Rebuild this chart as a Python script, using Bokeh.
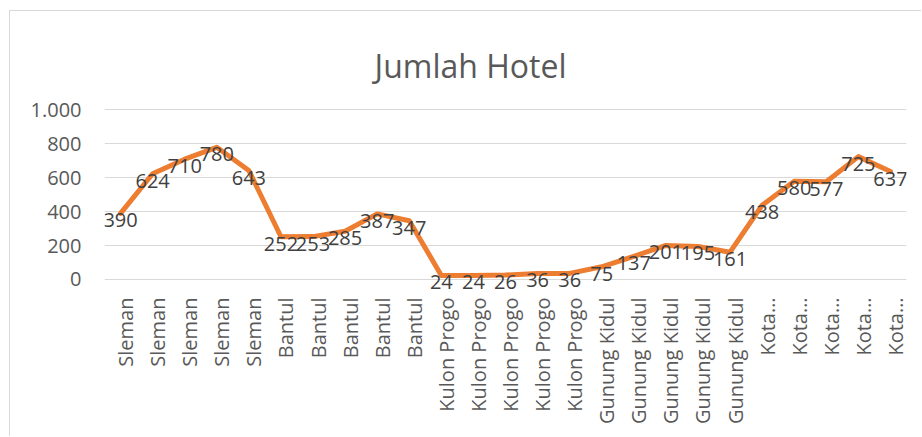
import numpy as np
from bokeh.plotting import figure
from bokeh.models import Range1d, FixedTicker, LabelSet, Label, ColumnDataSource
from bokeh.core.properties import value
from bokeh.embed import file_html
from bokeh.resources import INLINE
from math import pi

title_text = "Jumlah Hotel"
categories = [
    "Sleman", "Sleman", "Sleman", "Sleman", "Sleman",
    "Bantul", "Bantul", "Bantul", "Bantul", "Bantul",
    "Kulon Progo", "Kulon Progo", "Kulon Progo", "Kulon Progo", "Kulon Progo",
    "Gunung Kidul", "Gunung Kidul", "Gunung Kidul", "Gunung Kidul", "Gunung Kidul",
    "Kota…", "Kota…", "Kota…", "Kota…", "Kota…",
]
values = [390, 624, 710, 780, 643,
          252, 253, 285, 387, 347,
          24, 24, 26, 36, 36,
          75, 137, 201, 195, 161,
          438, 580, 577, 725, 637]
y_ticks = [0, 200, 400, 600, 800, 1000]
y_tick_labels = ["0", "200", "400", "600", "800", "1.000"]

FONT = "Open Sans"
ORANGE = "#ED7D31"
GRID = "#D9D9D9"
TICK = "#595959"

n = len(values)
xs = list(range(n))

# frame extended slightly above/below the value range so that title and labels are not clipped
p = figure(width=912, height=426, output_backend="svg", toolbar_location=None,
           x_range=Range1d(-0.5, n - 0.5), y_range=Range1d(-106.2, 1410),
           min_border_left=94, min_border_right=16, min_border_top=29, min_border_bottom=140)
p.styles = {"margin-left": "9px", "margin-top": "10px",
            "border-left": "1px solid #D9D9D9", "border-top": "1px solid #D9D9D9"}
p.outline_line_color = None
p.background_fill_color = "white"
p.border_fill_color = "white"

src = ColumnDataSource(dict(x=xs, y=values, label=[str(v) for v in values]))
p.line(x="x", y="y", source=src, line_color=ORANGE, line_width=5,
       line_join="round", line_cap="round")

labels = LabelSet(x="x", y="y", text="label", source=src,
                  text_align="center", text_baseline="alphabetic", y_offset=-14,
                  text_font=value(FONT), text_font_size="20px", text_color="#404040")
p.add_layout(labels)

p.add_layout(Label(x=10.91, y=1262, text=title_text, text_align="center",
                   text_baseline="alphabetic", text_font=FONT, text_font_size="32px",
                   text_color=TICK))

p.xgrid.grid_line_color = None
p.ygrid.grid_line_color = GRID
p.ygrid.grid_line_width = 1

p.yaxis.ticker = FixedTicker(ticks=y_ticks)
p.yaxis.major_label_overrides = {t: l for t, l in zip(y_ticks, y_tick_labels)}
p.yaxis.axis_line_color = None
p.yaxis.major_tick_line_color = None
p.yaxis.minor_tick_line_color = None
p.yaxis.major_tick_out = 0
p.yaxis.major_label_standoff = 23
p.yaxis.major_label_text_font = FONT
p.yaxis.major_label_text_font_size = "20px"
p.yaxis.major_label_text_color = TICK

# category labels sit slightly right of each point, as in the original
label_shift = 0.156
x_label_pos = [i + label_shift for i in range(n)]
p.xaxis.ticker = FixedTicker(ticks=x_label_pos)
p.xaxis.major_label_overrides = {t: c for t, c in zip(x_label_pos, categories)}
p.xaxis.major_label_orientation = pi / 2
p.xaxis.axis_line_color = None
p.xaxis.major_tick_line_color = None
p.xaxis.minor_tick_line_color = None
p.xaxis.major_tick_out = 0
p.xaxis.major_label_standoff = 0
p.xaxis.major_label_text_font = FONT
p.xaxis.major_label_text_font_size = "20px"
p.xaxis.major_label_text_color = TICK

open("out.html", "w").write(file_html(p, INLINE))
